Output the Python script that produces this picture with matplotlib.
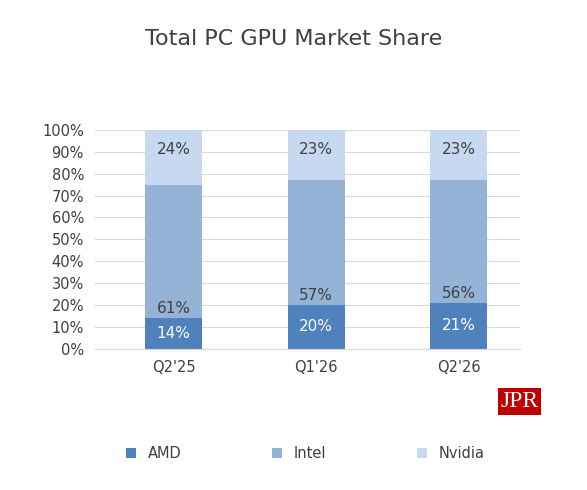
import matplotlib
matplotlib.use('Agg')
from matplotlib import pyplot as plt
import numpy as np

quarters = ["Q2'25", "Q1'26", "Q2'26"]
amd = [14, 20, 21]
intel = [61, 57, 56]
nvidia = [24, 23, 23]

c_amd = '#4F81BD'
c_intel = '#95B3D7'
c_nvidia = '#C6D9F1'
txt = '#404040'

fig = plt.figure(figsize=(5.87, 4.9), dpi=100)
ax = fig.add_axes([0.162, 0.288, 0.724, 0.447])
x = np.arange(len(quarters))
w = 0.4
ax.bar(x, amd, w, color=c_amd, label='AMD', zorder=2)
ax.bar(x, intel, w, bottom=amd, color=c_intel, label='Intel', zorder=2)
base = np.array(amd) + np.array(intel)
top = 100 - base
ax.bar(x, top, w, bottom=base, color=c_nvidia, label='Nvidia', zorder=2)

for i in range(len(x)):
    ax.text(x[i], amd[i] / 2, f'{amd[i]}%', ha='center', va='center', color='white', fontsize=11)
    ax.text(x[i], amd[i] + 4.5, f'{intel[i]}%', ha='center', va='center', color=txt, fontsize=11)
    ax.text(x[i], 91, f'{nvidia[i]}%', ha='center', va='center', color=txt, fontsize=11)

ax.set_xlim(-0.55, 2.43)
ax.set_ylim(0, 100)
ax.set_yticks(range(0, 101, 10))
ax.set_yticklabels([f'{v}%' for v in range(0, 101, 10)], color=txt, fontsize=10.5)
ax.set_xticks(x)
ax.set_xticklabels(quarters, color=txt, fontsize=10.5)
ax.tick_params(length=0, pad=8)
ax.grid(axis='y', color='#D9D9D9', linewidth=0.8, zorder=0)
for s in ['top', 'right', 'left']:
    ax.spines[s].set_visible(False)
ax.spines['bottom'].set_color('#D9D9D9')

fig.text(0.5, 0.92, 'Total PC GPU Market Share', ha='center', va='center', fontsize=16, color=txt)
fig.legend(loc='center', bbox_to_anchor=(0.52, 0.075), ncol=3, frameon=False,
           fontsize=10.5, handlelength=0.7, handleheight=0.7, columnspacing=6.2, labelcolor=txt)

fig.text(0.885, 0.18, 'JPR', ha='center', va='center', fontsize=17, color='white', family='Liberation Serif',
         bbox=dict(facecolor='#C00000', edgecolor='none', pad=2))

fig.savefig('out.png', dpi=100, facecolor='white')
